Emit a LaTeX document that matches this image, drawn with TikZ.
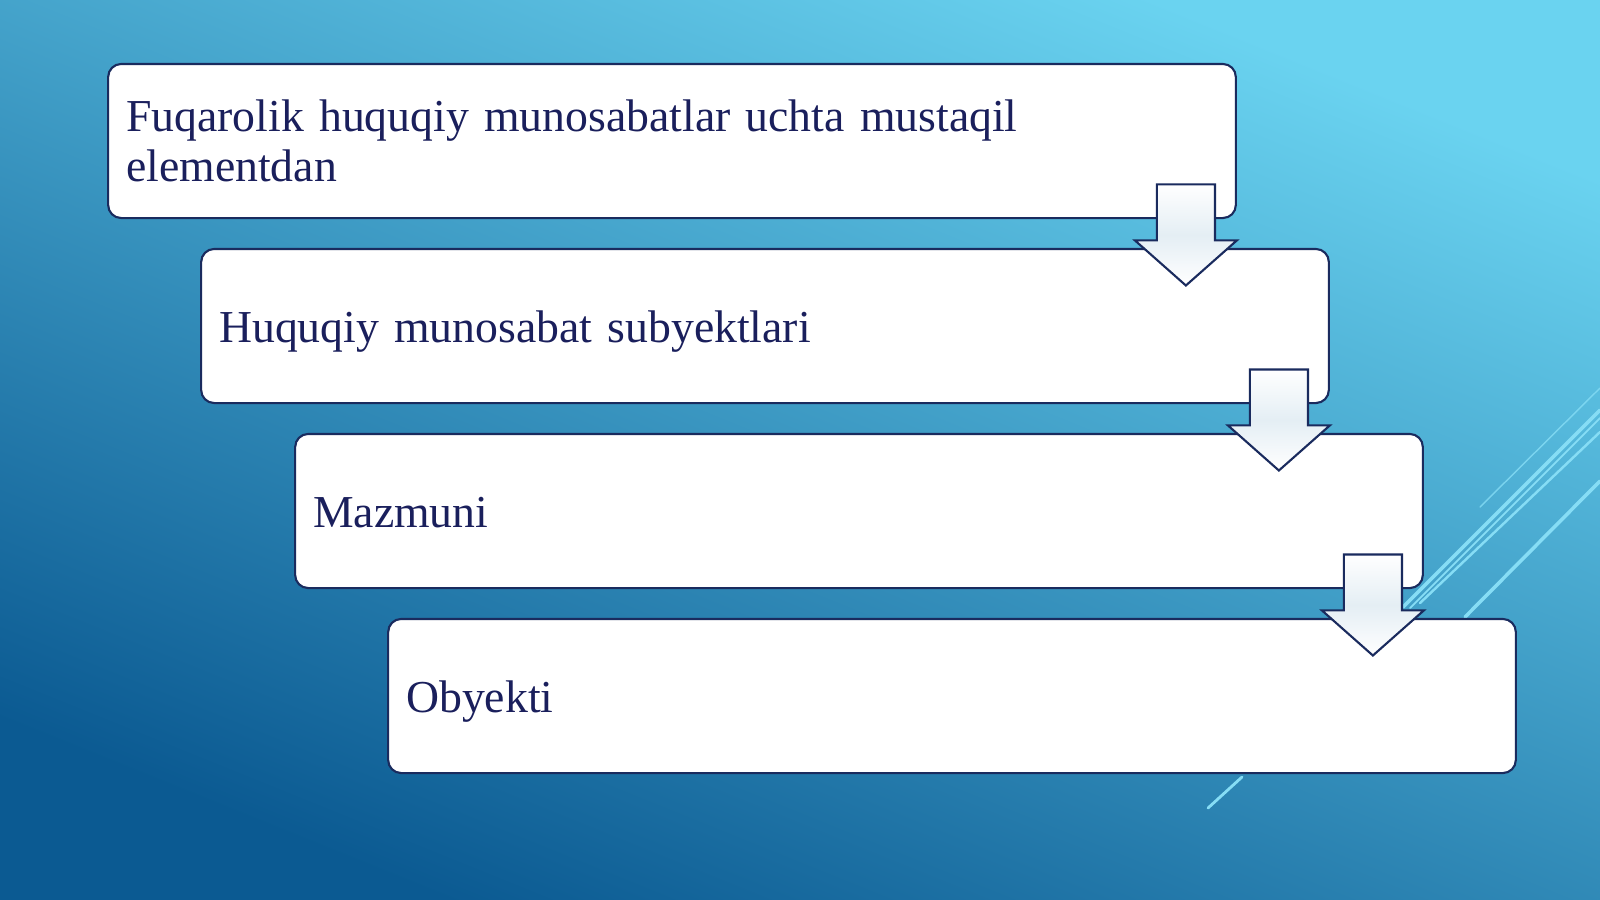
\documentclass[tikz,border=0pt]{standalone}
\usepackage{fontspec}
\newfontfamily\boxfont{Liberation Serif}
\usetikzlibrary{shapes.arrows,calc}
\definecolor{bgdark}{HTML}{0B5A92}
\definecolor{bglight}{HTML}{6AD3F0}
\definecolor{boxline}{HTML}{1A2B5E}
\definecolor{boxtext}{HTML}{1A1F5C}
\definecolor{arrowmid}{HTML}{E4EEF4}
\definecolor{streak}{HTML}{86DDF5}

\begin{document}
\begin{tikzpicture}[x=0.01cm, y=-0.01cm,
			box/.style={draw=boxline, line width=0.6pt, fill=white, rounded corners=0.13cm,
				minimum width=11.27cm, minimum height=1.54cm, text width=10.91cm,
				inner xsep=0.18cm, align=left, text=boxtext,
				font={\boxfont\fontsize{13}{14.4}\selectfont}},
			oneline/.style={text height=0.43cm, text depth=0.1cm},
			downarrow/.style={single arrow, draw=boxline, line width=0.6pt,
				shape border rotate=270, inner sep=0.28cm,
				minimum height=1.01cm, minimum width=1.0cm,
				single arrow head extend=0.22cm, single arrow tip angle=97,
				top color=white, bottom color=white, middle color=arrowmid},
			streakline/.style={draw=streak, line cap=round}]
			% background
			\shade[bottom color=bgdark, top color=bglight, shading angle=-22]
				(0,0) rectangle (1600,899);
			\useasboundingbox (0,0) rectangle (1600,899);
			% streaks on the right
			\draw[streakline, line width=0.4pt, opacity=0.8] (1480,507) -- (1600,388);
			\draw[streakline, line width=1pt] (1403,607) -- (1600,410);
			\draw[streakline, line width=0.5pt] (1410,608) -- (1600,418);
			\draw[streakline, line width=0.7pt] (1420,603) -- (1600,432);
			\draw[streakline, line width=1pt] (1465,617) -- (1600,481);
			\draw[streakline, line width=0.8pt] (1208,808) -- (1242,777);
			
			\node[box] (b1) at (672, 141) {Fuqarolik huquqiy munosabatlar uchta mustaqil\\elementdan};
			\node[box, oneline] (b2) at (765, 326) {Huquqiy munosabat subyektlari};
			\node[box, oneline] (b3) at (859, 511) {Mazmuni};
			\node[box, oneline] (b4) at (952, 696) {Obyekti};
			
			\node[downarrow] (a1) at ($(b1.south east)+(-51,3)$) {};
			\node[downarrow] (a2) at ($(b2.south east)+(-51,3)$) {};
			\node[downarrow] (a3) at ($(b3.south east)+(-51,3)$) {};
			\end{tikzpicture}
\end{document}
